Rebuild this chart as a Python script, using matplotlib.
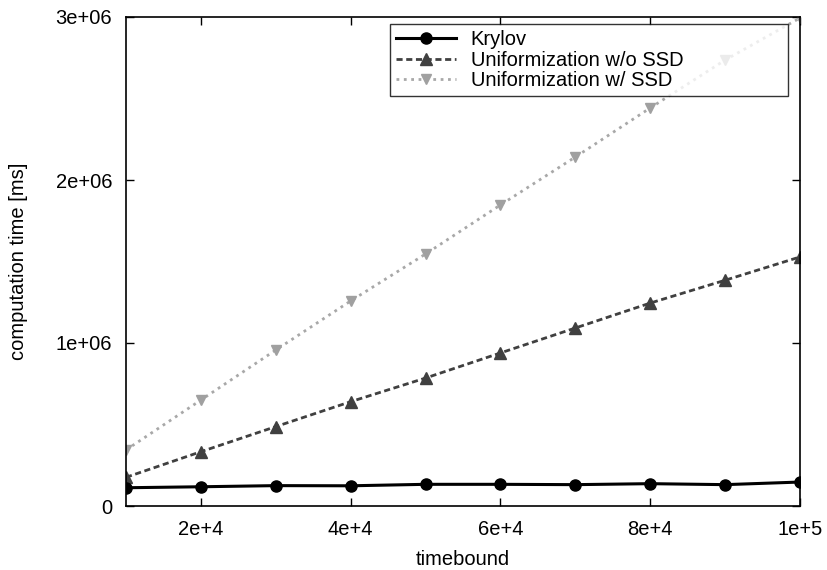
import numpy as np
import matplotlib
matplotlib.use('Agg')
import matplotlib.pyplot as plt

plt.rcParams['font.family'] = ['Liberation Sans', 'DejaVu Sans']

# timebound values
timebound  = [1e4, 2e4, 3e4, 4e4, 5e4, 6e4, 7e4, 8e4, 9e4, 1e5]

# computation time [ms]
krylov     = [112000, 118000, 125000, 124000, 133000, 133000, 131000, 137000, 131000, 147000]
unif_nossd = [176000, 333000, 487000, 640000, 785000, 939000, 1092000, 1245000, 1385000, 1528000]
unif_ssd   = [344000, 650000, 957000, 1258000, 1546000, 1847000, 2141000, 2442000, 2736000, 2994000]

xticks     = [2e4, 4e4, 6e4, 8e4, 1e5]
xlabels    = ['2e+4', '4e+4', '6e+4', '8e+4', '1e+5']
yticks     = [0, 1e6, 2e6, 3e6]
ylabels    = ['0', '1e+06', '2e+06', '3e+06']

fs = 14.5

fig = plt.figure(figsize=(8.28, 5.70), dpi=100)
ax  = fig.add_axes([126/828, 1 - 506/570, 674/828, 489/570])

ax.plot(timebound, krylov, '-', color='black', lw=2.2, marker='o', ms=8,
        label='Krylov', zorder=3)
ax.plot(timebound, unif_nossd, '--', color='#404040', lw=2.0, dashes=(2.2, 1.3),
        marker='^', ms=9, mfc='#404040', mec='#404040', label='Uniformization w/o SSD')
ax.plot(timebound, unif_ssd, ':', color='#a8a8a8', lw=2.0,
        marker='v', ms=7, mfc='#a0a0a0', mec='#a0a0a0', label='Uniformization w/ SSD')

ax.set_xlim(1e4, 1e5)
ax.set_ylim(0, 3e6)
ax.set_xticks(xticks)
ax.set_xticklabels(xlabels)
ax.set_yticks(yticks)
ax.set_yticklabels(ylabels)

ax.tick_params(direction='in', length=6, width=1, labelsize=fs, pad=10,
               top=True, right=True)
ax.tick_params(axis='y', pad=10)
for s in ax.spines.values():
    s.set_linewidth(1.2)

ax.set_xlabel('timebound', fontsize=fs, labelpad=8)
ax.set_ylabel('computation time [ms]', fontsize=fs, labelpad=20)

# legend box spans roughly x 390..788, y 24..98 px (gnuplot-style wide key)
x0 = (390 - 126) / 674
w  = (788 - 390) / 674
top = 1 - (24 - 17) / 489
leg = ax.legend(loc='upper left', bbox_to_anchor=(x0, 0.5, w, top - 0.5),
                bbox_transform=ax.transAxes, mode='expand', fontsize=fs,
                frameon=True, fancybox=False, borderpad=0.3, labelspacing=0.08,
                handlelength=3.0, handletextpad=0.7, borderaxespad=0.0)
leg.get_frame().set_edgecolor('black')
leg.get_frame().set_linewidth(1.0)

fig.savefig('out.png', dpi=100)
